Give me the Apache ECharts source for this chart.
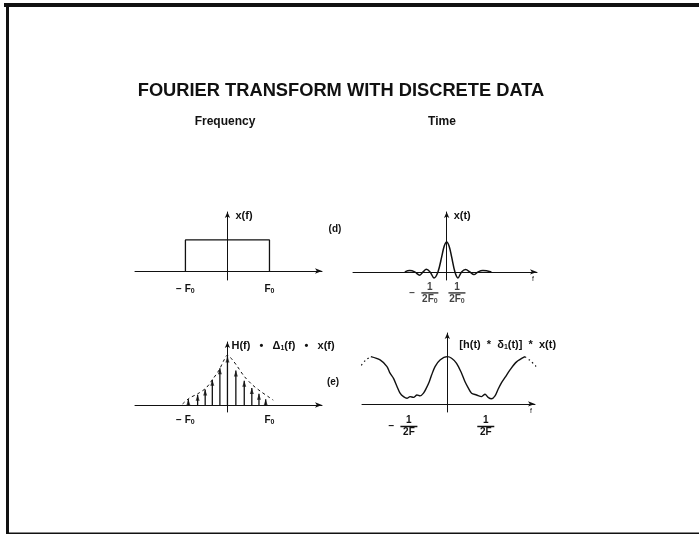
<!DOCTYPE html>
<html><head><meta charset="utf-8">
<script src="https://cdn.jsdelivr.net/npm/echarts@6/dist/echarts.min.js"></script>
<style>html,body{margin:0;padding:0;background:#fff}#c{width:699px;height:535px}</style>
</head><body><div id="c"></div>
<script>
const FONT = '"Liberation Sans", Arial, Helvetica, sans-serif';
const INK = '#111';

// ---- text ----
const titleText = 'FOURIER TRANSFORM WITH DISCRETE DATA';
const columnTitles = ['Frequency', 'Time'];
const panelTags = ['(d)', '(e)'];
const yNames = ['x(f)', 'x(t)', 'H(f)   •   Δ{s|1}(f)   •   x(f)', '[h(t)  *  δ{s|1}(t)]  *  x(t)'];

// ---- tick labels ----
const freqTicks = [-1, 1];
const freqTickLabels = ['{t|− F}{s|0}', '{t|F}{s|0}'];
const sincTicks = [-1, 1];
const sincDen = '{d|2F}{ds|0}';
const periodTicks = [-1, 1];
const periodDen = '{d|2F}';

// ---- panel (d) frequency: rectangle x(f) ----
const rectF = [-1, -1, 1, 1];
const rectX = [0, 1, 1, 0];

// ---- panel (d) time: sinc-like x(t) ----
const sincT = [-5.05, -4.46, -3.85, -3.25, -2.85, -2.45, -2.0, -1.53, -1.05, -0.6, -0.3, 0, 0.3, 0.6, 1.0, 1.36, 1.8, 2.29, 2.8, 3.29, 3.8, 4.37, 5.4];
const sincX = [0, 0.043, 0, -0.11, 0, 0.09, 0, -0.2, 0, 0.5, 0.86, 1.0, 0.86, 0.5, 0, -0.2, 0, 0.077, 0, -0.09, 0, 0.043, 0];

// ---- panel (e) frequency: sampled spectrum stems + dashed envelope ----
const stemF = [-0.93, -0.71, -0.53, -0.36, -0.18, 0, 0.2, 0.4, 0.58, 0.75, 0.91];
const stemH = [0.12, 0.21, 0.32, 0.52, 0.76, 1.0, 0.71, 0.50, 0.35, 0.23, 0.12];
const envF = [-1.07, -0.91, -0.71, -0.51, -0.36, -0.2, -0.08, 0, 0.12, 0.24, 0.4, 0.6, 0.79, 0.99, 1.09];
const envH = [0.02, 0.14, 0.23, 0.35, 0.52, 0.72, 0.93, 1.03, 0.93, 0.79, 0.59, 0.41, 0.28, 0.16, 0.1];

// ---- panel (e) time: periodic waveform ----
const perT = [-1.99, -1.75, -1.57, -1.49, -1.40, -1.31, -1.23, -1.14, -1.05, -0.97, -0.88, -0.79, -0.71, -0.62, -0.55, -0.47, -0.41, -0.32, -0.19, 0,
              0.11, 0.24, 0.37, 0.46, 0.55, 0.63, 0.76, 0.89, 0.98, 1.06, 1.15, 1.24, 1.32, 1.41, 1.50, 1.63, 1.80, 2.02];
const perX = [1.0, 0.93, 0.79, 0.65, 0.54, 0.37, 0.23, 0.155, 0.12, 0.155, 0.14, 0.19, 0.17, 0.23, 0.33, 0.47, 0.61, 0.79, 0.93, 1.0,
              0.966, 0.86, 0.65, 0.47, 0.33, 0.226, 0.19, 0.155, 0.205, 0.14, 0.11, 0.17, 0.31, 0.45, 0.56, 0.72, 0.89, 1.0];
const dotLT = [-2.35, -2.25, -2.12, -1.99];
const dotLX = [0.65, 0.8, 0.93, 1.0];
const dotRT = [2.02, 2.15, 2.3, 2.45];
const dotRX = [1.0, 0.92, 0.8, 0.65];

const zip = (a, b) => a.map((v, i) => [v, b[i]]);

const bold = { color: INK, fontFamily: FONT, fontWeight: 'bold' };
const subRich = {
  t: Object.assign({ fontSize: 10, lineHeight: 12 }, bold),
  s: Object.assign({ fontSize: 7, padding: [5, 0, 0, 0], lineHeight: 12 }, bold)
};
const fracRich = {
  p: { width: 12, lineHeight: 3, fontSize: 3 },
  m: Object.assign({ width: 12, align: 'left', fontSize: 10, lineHeight: 3 }, bold),
  n: Object.assign({ width: 17, align: 'center', fontSize: 10, lineHeight: 9 }, bold),
  bar: { width: 17, height: 1.5, backgroundColor: INK, lineHeight: 3 },
  d: Object.assign({ fontSize: 10, lineHeight: 9 }, bold),
  ds: Object.assign({ fontSize: 7, padding: [4, 0, 0, 0], lineHeight: 9 }, bold)
};
function fraction(den, neg) {
  return '{p|}{n|1}{p|}\n' +
         (neg ? '{m|−}' : '{p|}') + '{bar|}{p|}\n' +
         '{p|}' + den + '{p|}';
}

const axLine = (sym) => ({ onZero: true, lineStyle: { color: INK, width: 1 }, symbol: ['none', 'arrow'], symbolSize: sym });

function xAx(gi, min, max, label, name) {
  return {
    type: 'value', gridIndex: gi, min: min, max: max,
    axisLine: axLine([4, 7]), axisTick: { show: false }, splitLine: { show: false },
    axisLabel: Object.assign({ hideOverlap: false, showMinLabel: true, showMaxLabel: true }, label),
    name: name || '', nameLocation: 'end', nameGap: -5,
    nameTextStyle: { color: INK, fontFamily: FONT, fontSize: 7, align: 'left', verticalAlign: 'top', padding: [4, 0, 0, 0] }
  };
}
function yAx(gi, min, max, name, gap, padLeft, size) {
  return {
    type: 'value', gridIndex: gi, min: min, max: max,
    axisLine: axLine([4, 6]), axisTick: { show: false }, splitLine: { show: false },
    axisLabel: { show: false },
    name: name, nameLocation: 'end', nameGap: gap,
    nameTextStyle: Object.assign({}, bold, { fontSize: size, align: 'left', verticalAlign: 'middle', padding: [0, 0, 0, padLeft],
      rich: { s: Object.assign({ fontSize: 7, padding: [4, 0, 0, 0] }, bold) } })
  };
}

// the two close 1/2F0 labels of the sinc panel are carried by invisible points at ±1 on the axis
const sincLabelShift = [-8.5, 2];
const sincLabelData = sincTicks.map((t, i) => ({
  value: [t, 0],
  label: { formatter: fraction(sincDen, t < 0), offset: [sincLabelShift[i], 0] }
}));

const option = {
  backgroundColor: '#fff',
  animation: false,
  grid: [
    { left: 135, top: 212, width: 187, height: 68 },
    { left: 353, top: 212, width: 184, height: 68 },
    { left: 135, top: 342, width: 187, height: 70 },
    { left: 362, top: 333, width: 173, height: 79 }
  ],
  xAxis: [
    xAx(0, -2.2, 2.25, { customValues: freqTicks, margin: 3, rich: subRich,
      formatter: v => freqTickLabels[freqTicks.indexOf(v)] }),
    xAx(1, -11.3, 10.9, { show: false }, 'f'),
    xAx(2, -2.2, 2.25, { customValues: freqTicks, margin: 2, rich: subRich,
      formatter: v => freqTickLabels[freqTicks.indexOf(v)] }),
    xAx(3, -2.22, 2.28, { customValues: periodTicks, margin: 4, rich: fracRich,
      formatter: v => fraction(periodDen, v < 0) }, 'f')
  ],
  yAxis: [
    yAx(0, -0.29, 1.9, yNames[0], -4, 8, 11),
    yAx(1, -0.27, 2.0, yNames[1], -4, 7, 11),
    yAx(2, -0.145, 1.3, yNames[2], -4, 4, 11),
    yAx(3, -0.17, 1.5, yNames[3], -12, 12, 11)
  ],
  series: [
    { type: 'line', xAxisIndex: 0, yAxisIndex: 0, data: zip(rectF, rectX), symbol: 'none',
      lineStyle: { color: INK, width: 1.3 } },
    { type: 'line', xAxisIndex: 1, yAxisIndex: 1, data: zip(sincT, sincX), symbol: 'none', smooth: 0.35,
      lineStyle: { color: INK, width: 1.5 } },
    { type: 'scatter', xAxisIndex: 1, yAxisIndex: 1, data: sincLabelData, symbol: 'circle', symbolSize: 1, silent: true,
      itemStyle: { color: 'rgba(255,255,255,0)' },
      label: { show: true, position: 'bottom', distance: 10, rich: fracRich, color: INK } },
    { type: 'bar', xAxisIndex: 2, yAxisIndex: 2, data: zip(stemF, stemH), barWidth: 1.3,
      itemStyle: { color: INK } },
    { type: 'scatter', xAxisIndex: 2, yAxisIndex: 2, data: zip(stemF, stemH), symbol: 'triangle',
      symbolSize: [4, 6], symbolOffset: [0, 3], itemStyle: { color: INK } },
    { type: 'line', xAxisIndex: 2, yAxisIndex: 2, data: zip(envF, envH), symbol: 'none', smooth: 0.3,
      lineStyle: { color: INK, width: 1, type: [3, 3] } },
    { type: 'line', xAxisIndex: 3, yAxisIndex: 3, data: zip(perT, perX), symbol: 'none', smooth: 0.3,
      lineStyle: { color: INK, width: 1.4 } },
    { type: 'line', xAxisIndex: 3, yAxisIndex: 3, data: zip(dotLT, dotLX), symbol: 'none', smooth: 0.3, clip: false,
      lineStyle: { color: INK, width: 1.2, type: [1.5, 3] } },
    { type: 'line', xAxisIndex: 3, yAxisIndex: 3, data: zip(dotRT, dotRX), symbol: 'none', smooth: 0.3, clip: false,
      lineStyle: { color: INK, width: 1.2, type: [1.5, 3] } }
  ],
  graphic: [
    { type: 'rect', shape: { x: 4, y: 3, width: 695, height: 4 }, style: { fill: INK } },
    { type: 'rect', shape: { x: 6, y: 3, width: 3, height: 531 }, style: { fill: INK } },
    { type: 'rect', shape: { x: 6, y: 532.5, width: 693, height: 1.5 }, style: { fill: INK } },
    { type: 'text', x: 341, y: 91, style: { text: titleText, fontSize: 18.3, align: 'center', verticalAlign: 'middle', fill: INK, fontFamily: FONT, fontWeight: 'bold' } },
    { type: 'text', x: 225, y: 122, style: { text: columnTitles[0], fontSize: 12, align: 'center', verticalAlign: 'middle', fill: INK, fontFamily: FONT, fontWeight: 'bold' } },
    { type: 'text', x: 442, y: 122, style: { text: columnTitles[1], fontSize: 12, align: 'center', verticalAlign: 'middle', fill: INK, fontFamily: FONT, fontWeight: 'bold' } },
    { type: 'text', x: 335, y: 229, style: { text: panelTags[0], fontSize: 10, align: 'center', verticalAlign: 'middle', fill: INK, fontFamily: FONT, fontWeight: 'bold' } },
    { type: 'text', x: 333, y: 382, style: { text: panelTags[1], fontSize: 10, align: 'center', verticalAlign: 'middle', fill: INK, fontFamily: FONT, fontWeight: 'bold' } }
  ]
};

const chart = echarts.init(document.getElementById('c'), null, { renderer: 'canvas' });
chart.setOption(option);
</script>
</body></html>
